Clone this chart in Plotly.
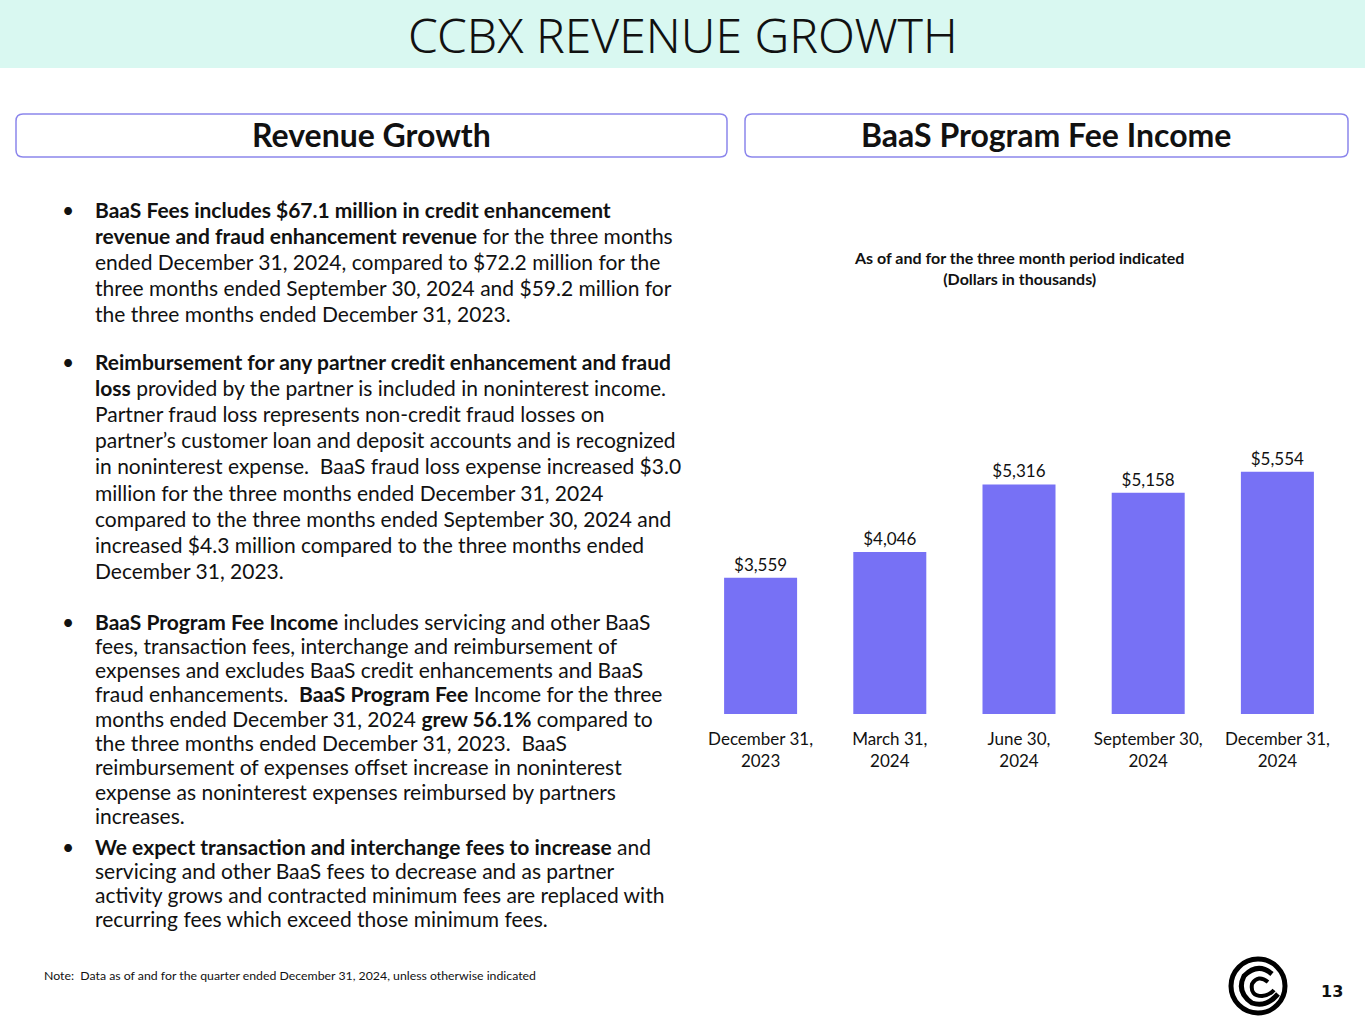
import plotly.graph_objects as go

W = 1365
H = 1024

# chart data (dollars in thousands)
QUARTERS = ["December 31,<br>2023", "March 31,<br>2024", "June 30,<br>2024",
            "September 30,<br>2024", "December 31,<br>2024"]
FEE_INCOME = [3559, 4046, 5316, 5158, 5554]

TITLE = "CCBX REVENUE GROWTH"
LEFT_HEAD = "Revenue Growth"
RIGHT_HEAD = "BaaS Program Fee Income"
CHART_NOTE = "<b>As of and for the three month period indicated<br>(Dollars in thousands)</b>"
FOOTNOTE = "Note:  Data as of and for the quarter ended December 31, 2024, unless otherwise indicated"

BULLETS = [
    ["<b>BaaS Fees includes $67.1 million in credit enhancement</b>",
     "<b>revenue and fraud enhancement revenue</b> for the three months",
     "ended December 31, 2024, compared to $72.2 million for the",
     "three months ended September 30, 2024 and $59.2 million for",
     "the three months ended December 31, 2023."],
    ["<b>Reimbursement for any partner credit enhancement and fraud</b>",
     "<b>loss</b> provided by the partner is included in noninterest income.",
     "Partner fraud loss represents non-credit fraud losses on",
     "partner’s customer loan and deposit accounts and is recognized",
     "in noninterest expense.  BaaS fraud loss expense increased $3.0",
     "million for the three months ended December 31, 2024",
     "compared to the three months ended September 30, 2024 and",
     "increased $4.3 million compared to the three months ended",
     "December 31, 2023."],
    ["<b>BaaS Program Fee Income</b> includes servicing and other BaaS",
     "fees, transaction fees, interchange and reimbursement of",
     "expenses and excludes BaaS credit enhancements and BaaS",
     "fraud enhancements.  <b>BaaS Program Fee</b> Income for the three",
     "months ended December 31, 2024 <b>grew 56.1%</b> compared to",
     "the three months ended December 31, 2023.  BaaS",
     "reimbursement of expenses offset increase in noninterest",
     "expense as noninterest expenses reimbursed by partners",
     "increases."],
    ["<b>We expect transaction and interchange fees to increase</b> and",
     "servicing and other BaaS fees to decrease and as partner",
     "activity grows and contracted minimum fees are replaced with",
     "recurring fees which exceed those minimum fees."],
]
BULLET_TOP = [209, 361, 621, 846]
LINE_GAP = [26.0, 26.2, 24.3, 24.0]

BODY_FONT = "Lato"
BAR_COLOR = "#7771F5"
BORDER = "#8C86EC"


def px_x(x):
    return x / W


def px_y(y):
    return 1 - y / H


def pt(x, y):
    return f"{px_x(x)},{px_y(y)}"


def round_box(x0, y0, x1, y1, r):
    # pixel corners, converted to paper coords point by point
    return (f"M{pt(x0 + r, y0)} L{pt(x1 - r, y0)} Q{pt(x1, y0)} {pt(x1, y0 + r)} "
            f"L{pt(x1, y1 - r)} Q{pt(x1, y1)} {pt(x1 - r, y1)} L{pt(x0 + r, y1)} "
            f"Q{pt(x0, y1)} {pt(x0, y1 - r)} L{pt(x0, y0 + r)} Q{pt(x0, y0)} {pt(x0 + r, y0)} Z")


fig = go.Figure()

fig.add_trace(go.Bar(
    x=QUARTERS, y=FEE_INCOME,
    marker=dict(color=BAR_COLOR, line=dict(width=0)),
    width=0.565,
    text=["$" + format(v, ",") for v in FEE_INCOME],
    textposition="outside",
    textfont=dict(family=BODY_FONT, size=17, color="#111111"),
    cliponaxis=False,
    hoverinfo="x+y",
))

fig.update_layout(
    width=W, height=H,
    margin=dict(l=0, r=0, t=0, b=0),
    paper_bgcolor="white", plot_bgcolor="white",
    showlegend=False,
    xaxis=dict(domain=[px_x(696), px_x(1342)], showgrid=False, showline=False,
               ticks="", ticklabelstandoff=13,
               tickfont=dict(family=BODY_FONT, size=17, color="#111111"),
               fixedrange=True),
    yaxis=dict(domain=[px_y(714), px_y(448)], range=[1000, 6000], visible=False,
               fixedrange=True),
)

shapes = []
# title banner
shapes.append(dict(type="rect", xref="paper", yref="paper",
                   x0=0, x1=1, y0=px_y(68), y1=1,
                   fillcolor="#D9F8F1", line=dict(width=0), layer="below"))
# header boxes
for (bx0, bx1) in [(16, 727), (745, 1348)]:
    shapes.append(dict(type="path", xref="paper", yref="paper",
                       path=round_box(bx0, 114, bx1, 157, 7),
                       line=dict(color=BORDER, width=1.5), fillcolor="white", layer="below"))
# logo: outer ring and inner arcs
cx, cy = 1258, 986
shapes.append(dict(type="circle", xref="paper", yref="paper",
                   x0=px_x(cx - 27), x1=px_x(cx + 27), y0=px_y(cy + 27), y1=px_y(cy - 27),
                   line=dict(color="black", width=5)))
shapes.append(dict(type="path", xref="paper", yref="paper",
                   path=(f"M{pt(cx + 14, cy - 12)} Q{pt(cx, cy - 24)} {pt(cx - 14, cy - 10)} "
                         f"Q{pt(cx - 22, cy + 6)} {pt(cx - 6, cy + 17)} "
                         f"Q{pt(cx + 8, cy + 22)} {pt(cx + 20, cy + 8)}"),
                   line=dict(color="black", width=5)))
shapes.append(dict(type="path", xref="paper", yref="paper",
                   path=(f"M{pt(cx + 10, cy - 4)} Q{pt(cx, cy - 12)} {pt(cx - 6, cy - 2)} "
                         f"Q{pt(cx - 8, cy + 10)} {pt(cx + 4, cy + 10)} "
                         f"Q{pt(cx + 12, cy + 9)} {pt(cx + 16, cy + 4)}"),
                   line=dict(color="black", width=4)))
fig.update_layout(shapes=shapes)

ann = []
ann.append(dict(text=TITLE, x=px_x(683), y=px_y(34), xref="paper", yref="paper",
                showarrow=False, xanchor="center", yanchor="middle",
                font=dict(family="Noto Sans", size=48, color="#111111", weight=300)))
ann.append(dict(text=f"<b>{LEFT_HEAD}</b>", x=px_x(372), y=px_y(134), xref="paper", yref="paper",
                showarrow=False, xanchor="center", yanchor="middle",
                font=dict(family=BODY_FONT, size=32, color="#111111")))
ann.append(dict(text=f"<b>{RIGHT_HEAD}</b>", x=px_x(1046), y=px_y(134), xref="paper", yref="paper",
                showarrow=False, xanchor="center", yanchor="middle",
                font=dict(family=BODY_FONT, size=32, color="#111111")))
ann.append(dict(text=CHART_NOTE, x=px_x(1019), y=px_y(268), xref="paper", yref="paper",
                showarrow=False, xanchor="center", yanchor="middle", align="center",
                font=dict(family=BODY_FONT, size=16, color="#111111")))

for lines, top, gap in zip(BULLETS, BULLET_TOP, LINE_GAP):
    ann.append(dict(text="•", x=px_x(60), y=px_y(top), xref="paper", yref="paper",
                    showarrow=False, xanchor="left", yanchor="middle",
                    font=dict(family=BODY_FONT, size=21, color="#111111")))
    for i, line in enumerate(lines):
        ann.append(dict(text=line, x=px_x(93), y=px_y(top + i * gap), xref="paper", yref="paper",
                        showarrow=False, xanchor="left", yanchor="middle",
                        font=dict(family=BODY_FONT, size=21, color="#111111")))

ann.append(dict(text=FOOTNOTE, x=px_x(42), y=px_y(975), xref="paper", yref="paper",
                showarrow=False, xanchor="left", yanchor="middle",
                font=dict(family=BODY_FONT, size=12.3, color="#111111")))
ann.append(dict(text="<b>13</b>", x=px_x(1332), y=px_y(991), xref="paper", yref="paper",
                showarrow=False, xanchor="center", yanchor="middle",
                font=dict(family="DejaVu Sans", size=16, color="#111111")))
fig.update_layout(annotations=ann)

fig.write_html("out.html", config={"displayModeBar": False},
               post_script="document.body.style.margin='0';")
